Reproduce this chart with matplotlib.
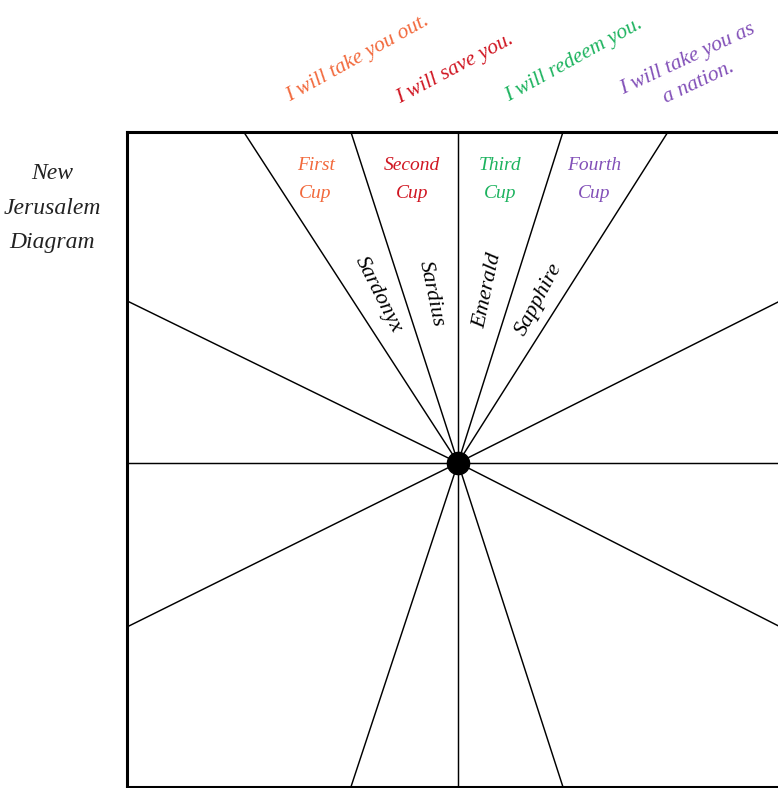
import matplotlib.pyplot as plt

# ray end points on the square border (center of diagram is 0,0)
top_x = [-1.94, -0.97, 0.0, 0.95, 1.90]
side_y = [1.47, 0.0, -1.49]
right_y = [1.51, 0.0, -1.53]
bottom_x = [-0.97, 0.0, 0.95]

cups = ["First\nCup", "Second\nCup", "Third\nCup", "Fourth\nCup"]
promises = ["I will take you out.", "I will save you.",
            "I will redeem you.", "I will take you as\na nation."]
stones = ["Sardonyx", "Sardius", "Emerald", "Sapphire"]
colors = ["#F2693C", "#D01622", "#1DB35F", "#8250B8"]

X0, X1, Y0, Y1 = -3.0, 3.0, -2.94, 3.0

plt.rcParams["font.family"] = ["Liberation Serif", "DejaVu Serif"]

fig = plt.figure(figsize=(7.78, 7.88), dpi=100)
ax = fig.add_axes([126.7 / 778, 1 / 788, (789.4 - 126.7) / 778, 655 / 788])
ax.set_xlim(X0, X1)
ax.set_ylim(Y0, Y1)
ax.set_xticks([])
ax.set_yticks([])
for s in ax.spines.values():
    s.set_linewidth(2.2)
    s.set_color("black")

ends = [(x, Y1) for x in top_x] + [(X0, y) for y in side_y] \
    + [(X1, y) for y in right_y] + [(x, Y0) for x in bottom_x]
for ex, ey in ends:
    ax.plot([0, ex], [0, ey], color="black", lw=1.05, solid_capstyle="butt")
ax.plot(0, 0, "o", color="black", ms=16)

# cup labels in the top wedges
cup_x = [-1.29, -0.42, 0.38, 1.23]
for lab, cx, col in zip(cups, cup_x, colors):
    ax.text(cx, 2.57, lab, color=col, fontsize=14, style="italic",
            ha="center", va="center", linespacing=1.85)

# stone names along the wedges
stone_pos = [(-0.72, 1.52), (-0.24, 1.53), (0.27, 1.56), (0.73, 1.48)]
stone_rot = [-63, -78, 78, 62]
for lab, (sx, sy), r in zip(stones, stone_pos, stone_rot):
    ax.text(sx, sy, lab, color="black", fontsize=16, style="italic",
            ha="center", va="center", rotation=r, rotation_mode="anchor")

# promises above the square
prom_pos = [(-0.91, 3.66), (-0.03, 3.57), (1.05, 3.65), (2.13, 3.55)]
prom_rot = [29, 28, 29, 25]
for lab, (px, py), r, col in zip(promises, prom_pos, prom_rot, colors):
    ax.text(px, py, lab, color=col, fontsize=15.5, style="italic",
            ha="center", va="center", rotation=r, rotation_mode="anchor",
            multialignment="center", linespacing=1.5)

fig.text(52 / 778, 1 - 208 / 788, "New\nJerusalem\nDiagram", color="#222222",
         fontsize=17, style="italic", ha="center", va="center", linespacing=1.85)

fig.savefig("out.png", dpi=100)
